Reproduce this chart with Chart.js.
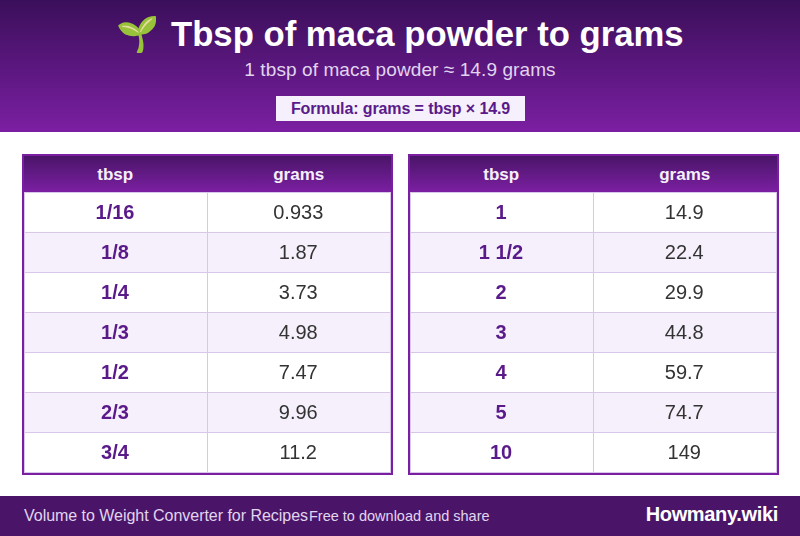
<!DOCTYPE html>
<html>
<head>
<meta charset="utf-8">
<title>Tbsp of maca powder to grams</title>
<script src="https://cdn.jsdelivr.net/npm/chart.js@4/dist/chart.umd.min.js"></script>
<style>
* { box-sizing: border-box; }
body { margin: 0; width: 800px; height: 536px; background: #fff; position: relative; overflow: hidden; font-family: Arial, sans-serif; }
#top { position: absolute; left: 0; top: 0; width: 800px; height: 132px; background: linear-gradient(180deg, #3a0f5a, #7b1fa2); text-align: center; }
#top h1 { margin: 0; position: absolute; left: 0; width: 800px; top: 14px; font-size: 34.7px; line-height: 40px; color: #fff; font-weight: bold; }
#top h1 span { margin-right: 2px; }
#top .sub { position: absolute; left: 0; width: 800px; top: 60px; font-size: 19px; line-height: 20px; letter-spacing: 0.09px; color: #e1d5f0; }
#top .formula { position: absolute; left: 276px; top: 96px; width: 249px; height: 25px; background: #f5f0fb; color: #5a1a8a; font-size: 16px; letter-spacing: -0.11px; line-height: 25px; font-weight: bold; }
.table { position: absolute; top: 154px; width: 371px; height: 321px; border: 2px solid #7b1fa2; background: #fff; }
.table .head { height: 36px; background: linear-gradient(180deg, #4a1568, #7b1fa2); display: flex; color: #f5f0fb; font-weight: bold; font-size: 17px; line-height: 37px; text-align: center; }
.table .head div { width: 50%; padding-right: 1px; }
.table canvas { display: block; outline: 1px solid #d9c7ea; outline-offset: -1px; }
#left { left: 22px; }
#right { left: 408px; }
#foot { position: absolute; left: 0; top: 496px; width: 800px; height: 40px; background: #4a1568; }
#foot .a { position: absolute; left: 24px; top: 10px; font-size: 16px; letter-spacing: -0.03px; line-height: 20px; color: #e1d5f0; white-space: nowrap; }
#foot .b { position: absolute; left: 309px; top: 10px; font-size: 14.5px; line-height: 20px; color: #e1d5f0; white-space: nowrap; }
#foot .c { position: absolute; right: 22px; top: 7px; font-size: 20px; letter-spacing: -0.33px; line-height: 22px; font-weight: bold; color: #fff; white-space: nowrap; }
</style>
</head>
<body>
<div id="top">
  <h1><span>🌱</span> Tbsp of maca powder to grams</h1>
  <div class="sub">1 tbsp of maca powder ≈ 14.9 grams</div>
  <div class="formula">Formula: grams = tbsp × 14.9</div>
</div>
<div class="table" id="left">
  <div class="head"><div>tbsp</div><div>grams</div></div>
  <canvas id="chartLeft" width="367" height="281"></canvas>
</div>
<div class="table" id="right">
  <div class="head"><div>tbsp</div><div>grams</div></div>
  <canvas id="chartRight" width="367" height="281"></canvas>
</div>
<div id="foot">
  <span class="a">Volume to Weight Converter for Recipes</span>
  <span class="b">Free to download and share</span>
  <span class="c">Howmany.wiki</span>
</div>
<script>
const leftTbsp = ['1/16', '1/8', '1/4', '1/3', '1/2', '2/3', '3/4'];
const leftGrams = ['0.933', '1.87', '3.73', '4.98', '7.47', '9.96', '11.2'];
const rightTbsp = ['1', '1 1/2', '2', '3', '4', '5', '10'];
const rightGrams = ['14.9', '22.4', '29.9', '44.8', '59.7', '74.7', '149'];

// writes the cell text in the middle of each bar
const cellText = {
    id: 'cellText',
    afterDraw(chart) {
        const ctx = chart.ctx;
        ctx.save();
        ctx.textAlign = 'center';
        ctx.textBaseline = 'middle';
        chart.data.datasets.forEach((ds, i) => {
            ctx.font = i === 0 ? 'bold 20px Arial' : '20px Arial';
            ctx.fillStyle = i === 0 ? '#5a1a8a' : '#333333';
            chart.getDatasetMeta(i).data.forEach((bar, j) => {
                const p = bar.getCenterPoint();
                ctx.fillText(ds.cells[j], p.x - 1, p.y + 1);
            });
        });
        ctx.restore();
    }
};

function makeTable(id, tbsp, grams) {
    const stripe = c => c.dataIndex % 2 ? '#f5f0fb' : '#ffffff';
    new Chart(document.getElementById(id), {
        type: 'bar',
        data: {
            labels: tbsp,
            datasets: [
                { cells: tbsp, data: tbsp.map(() => 1), backgroundColor: stripe, barPercentage: 1, categoryPercentage: 1 },
                { cells: grams, data: grams.map(() => 1), backgroundColor: stripe, barPercentage: 1, categoryPercentage: 1 }
            ]
        },
        options: {
            indexAxis: 'y',
            responsive: false,
            animation: false,
            events: [],
            layout: { padding: 0 },
            plugins: { legend: { display: false }, tooltip: { enabled: false } },
            scales: {
                x: {
                    stacked: true, min: 0, max: 2,
                    ticks: { display: false, stepSize: 1 },
                    border: { display: false },
                    grid: { color: '#d9c7ea', drawTicks: false, z: 1 }
                },
                y: {
                    stacked: true,
                    ticks: { display: false },
                    border: { display: false },
                    grid: { color: '#d9c7ea', drawTicks: false, z: 1, offset: true }
                }
            }
        },
        plugins: [cellText]
    });
}

makeTable('chartLeft', leftTbsp, leftGrams);
makeTable('chartRight', rightTbsp, rightGrams);
</script>
</body>
</html>
